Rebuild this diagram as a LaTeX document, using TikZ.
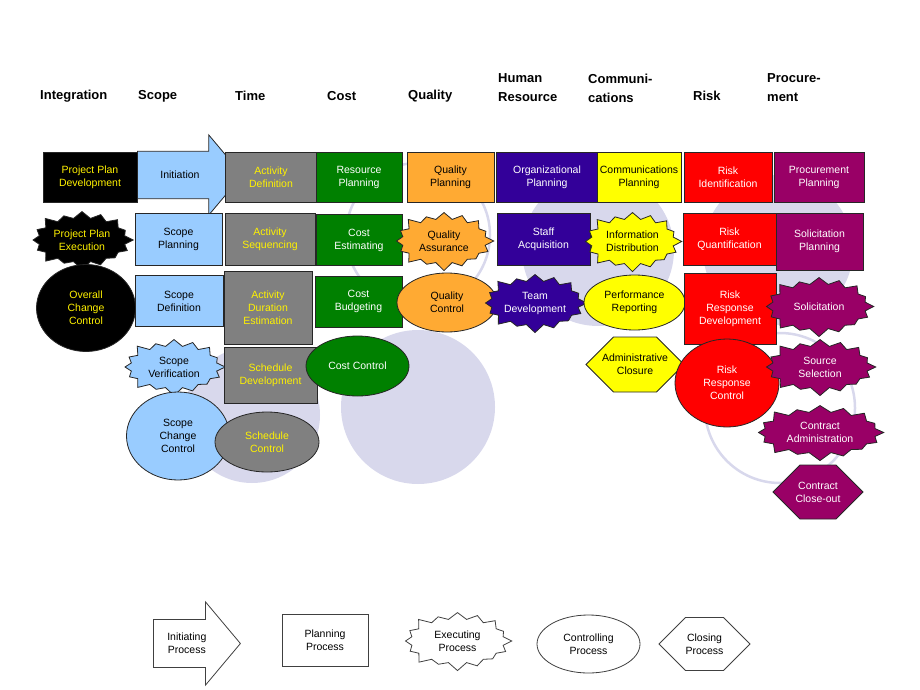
\documentclass[tikz,border=0pt]{standalone}
\usepackage{fontspec}
\setmainfont{Liberation Sans}
\usetikzlibrary{shapes.geometric,shapes.symbols,shapes.arrows}
\definecolor{haze}{HTML}{D8D8EC}
\definecolor{scopeblue}{HTML}{99CCFF}
\definecolor{timegray}{HTML}{808080}
\definecolor{costgreen}{HTML}{008000}
\definecolor{qualorange}{HTML}{FFAA33}
\definecolor{hrpurple}{HTML}{330099}
\definecolor{commyellow}{HTML}{FFFF00}
\definecolor{riskred}{HTML}{FF0000}
\definecolor{procmaroon}{HTML}{990066}
\tikzset{
  area/.style={font=\fontsize{13}{19}\selectfont\bfseries,anchor=west,align=left,inner sep=0pt},
  proc/.style={draw=black!85,line width=0.8pt,align=center,inner sep=0pt,
    font=\fontsize{10.5}{13}\selectfont},
  initiating/.style={proc,single arrow,single arrow head extend=16pt,single arrow tip angle=100,
    minimum height=93pt,minimum width=80pt,anchor=tail},
  planning/.style={proc,rectangle,minimum width=88pt,minimum height=50pt},
  executing/.style={proc,starburst,starburst points=16,starburst point height=9pt,
    minimum width=104pt,minimum height=62pt},
  controlling/.style={proc,ellipse,minimum width=100pt,minimum height=57pt},
  closing/.style={proc,signal,signal to=west and east,signal pointer angle=90,
    minimum width=98pt,minimum height=54pt},
  sz/.style 2 args={minimum width=#1pt,minimum height=#2pt},
  integ/.style={fill=black,text=yellow},
  scopec/.style={fill=scopeblue,text=black},
  timec/.style={fill=timegray,text=yellow},
  costc/.style={fill=costgreen,text=white},
  qualc/.style={fill=qualorange,text=black},
  hrc/.style={fill=hrpurple,text=white},
  commc/.style={fill=commyellow,text=black},
  riskc/.style={fill=riskred,text=white},
  procc/.style={fill=procmaroon,text=white},
  key/.style={fill=white,text=black,draw=black!75},
  ring/.style={draw=haze,line width=2.5pt}
}
\begin{document}
\begin{tikzpicture}[x=1pt,y=-1pt]
\useasboundingbox (0,0) rectangle (920,690);
% backdrop
\fill[haze] (252,415) circle (68pt);
\fill[haze] (418,407) circle (77pt);
\fill[haze] (598,250) circle (76pt);
\fill[haze] (778,250) circle (75pt);
\draw[ring] (418,235) circle (72pt);
\draw[ring] (780,408) circle (75pt);

\node[area] (hInt) at (40,96) {Integration};
\node[area] (hScope) at (138,96) {Scope};
\node[area] (hTime) at (235,96) {Time};
\node[area] (hCost) at (327,96) {Cost};
\node[area] (hQual) at (408,96) {Quality};
\node[area] (hHR) at (498,88) {Human\\Resource};
\node[area] (hComm) at (588,88) {Communi-\\cations};
\node[area] (hRisk) at (693,96) {Risk};
\node[area] (hProc) at (767,88) {Procure-\\ment};

% integration
\node[planning,integ,sz={94}{50}] (pp1) at (90,177) {Project Plan\\Development};
\node[executing,integ,sz={105}{62}] (pp2) at (82,240) {Project Plan\\Execution};
\node[controlling,integ,sz={99}{87}] (pp3) at (86,308) {Overall\\Change\\Control};
% scope
\node[initiating,scopec,inner ysep=19pt,minimum height=105pt] (sc1) at (137,175) {Initiation};
\node[planning,scopec,sz={87}{52}] (sc2) at (178.5,239) {Scope\\Planning};
\node[planning,scopec,sz={88}{51}] (sc3) at (179,301) {Scope\\Definition};
\node[executing,scopec,sz={105}{60}] (sc4) at (174,367) {Scope\\Verification};
\node[controlling,scopec,sz={103}{88}] (sc5) at (178,436) {Scope\\Change\\Control};
% time
\node[planning,timec,sz={92}{50}] (tm1) at (271,177) {Activity\\Definition};
\node[planning,timec,sz={90}{52}] (tm2) at (270,239) {Activity\\Sequencing};
\node[planning,timec,sz={88}{73}] (tm3) at (268,308) {Activity\\Duration\\Estimation};
\node[planning,timec,sz={93}{56}] (tm4) at (270.5,375) {Schedule\\Development};
\node[controlling,timec,sz={104}{60}] (tm5) at (267,442) {Schedule\\Control};
% cost
\node[planning,costc,sz={86}{50}] (ct1) at (359,177) {Resource\\Planning};
\node[planning,costc,sz={86}{51}] (ct2) at (359,240) {Cost\\Estimating};
\node[planning,costc,sz={87}{51}] (ct3) at (358.5,301.5) {Cost\\Budgeting};
\node[controlling,costc,sz={103}{60}] (ct4) at (357.5,366) {Cost Control};
% quality
\node[planning,qualc,sz={87}{50}] (ql1) at (450.5,177) {Quality\\Planning};
\node[executing,qualc,sz={102}{62}] (ql2) at (444,241) {Quality\\Assurance};
\node[controlling,qualc,sz={100}{59}] (ql3) at (447,302.5) {Quality\\Control};
% human resource
\node[planning,hrc,sz={102}{50}] (hr1) at (547,177) {Organizational\\Planning};
\node[planning,hrc,sz={93}{52}] (hr2) at (543.5,239) {Staff\\Acquisition};
\node[executing,hrc,sz={106}{62}] (hr3) at (535,303) {Team\\Development};
% communications
\node[planning,commc,sz={84}{50}] (cm1) at (639,177) {Communications\\Planning};
\node[executing,commc,sz={101}{63}] (cm2) at (632.5,241.5) {Information\\Distribution};
\node[controlling,commc,sz={101}{55}] (cm3) at (634.5,302.5) {Performance\\Reporting};
\node[closing,commc,sz={98}{55}] (cm4) at (635,364.5) {\makebox[0pt]{Administrative}\\Closure};
% risk
\node[planning,riskc,sz={88}{50}] (rk1) at (728,177) {Risk\\Identification};
\node[planning,riskc,sz={93}{52}] (rk2) at (729.5,239) {Risk\\Quantification};
\node[planning,riskc,sz={92}{71}] (rk3) at (730,308.5) {Risk\\Response\\Development};
\node[controlling,riskc,sz={104}{88}] (rk4) at (727,383) {Risk\\Response\\Control};
% procurement
\node[planning,procc,sz={90}{50}] (pc1) at (819,177) {Procurement\\Planning};
\node[planning,procc,sz={87}{57}] (pc2) at (819.5,241.5) {Solicitation\\Planning};
\node[executing,procc,sz={112}{63}] (pc3) at (819,306.5) {Solicitation};
\node[executing,procc,sz={114}{60}] (pc4) at (820,367) {Source\\Selection};
\node[executing,procc,sz={130}{59}] (pc5) at (820,432.5) {Contract\\Administration};
\node[closing,procc,sz={90}{54}] (pc6) at (818,492) {\makebox[0pt]{Contract}\\\makebox[0pt]{Close-out}};

% legend
\node[initiating,key,inner ysep=11pt,minimum height=87pt,minimum width=83pt] (lg1) at (153,643.5) {Initiating\\Process};
\node[planning,key,sz={86}{52}] (lg2) at (325,640) {Planning\\Process};
\node[executing,key,sz={111}{62}] (lg3) at (457.5,641) {Executing\\Process};
\node[controlling,key,sz={103}{58}] (lg4) at (588.5,644) {Controlling\\Process};
\node[closing,key,sz={91}{53}] (lg5) at (704.5,644) {Closing\\Process};
\end{tikzpicture}
\end{document}
